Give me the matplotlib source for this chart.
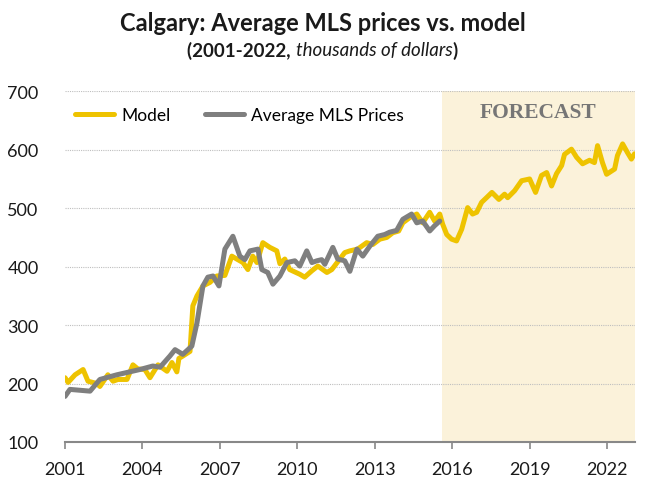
import matplotlib
matplotlib.use("Agg")
import matplotlib.pyplot as plt

plt.rcParams['font.family'] = ['Lato', 'DejaVu Sans']

# Average MLS prices (thousands of dollars), fractional years
mls_years = [2001.00, 2001.19, 2001.97, 2002.35, 2003.01, 2003.90, 2004.40, 2004.68,
             2005.06, 2005.26, 2005.56, 2005.91, 2006.11, 2006.34, 2006.53, 2006.73,
             2006.96, 2007.19, 2007.50, 2007.77, 2007.96, 2008.16, 2008.47, 2008.62,
             2008.85, 2009.05, 2009.32, 2009.59, 2009.90, 2010.09, 2010.36, 2010.56,
             2010.75, 2010.94, 2011.06, 2011.37, 2011.56, 2011.83, 2012.03, 2012.30,
             2012.53, 2012.80, 2013.11, 2013.38, 2013.57, 2013.84, 2014.08, 2014.42,
             2014.62, 2014.85, 2015.12, 2015.31, 2015.51]
mls_prices = [178, 190, 187, 207, 215, 224, 230, 228,
              247, 258, 250, 264, 304, 367, 382, 384,
              367, 430, 452, 418, 412, 427, 430, 395,
              390, 370, 384, 407, 410, 401, 427, 407,
              410, 412, 404, 433, 413, 410, 392, 430,
              418, 435, 452, 455, 459, 462, 481, 490,
              475, 478, 461, 470, 478]

# Model prices (thousands of dollars), fractional years
model_years = [2001.00, 2001.12, 2001.39, 2001.70, 2001.89, 2002.24, 2002.35, 2002.66,
               2002.86, 2003.05, 2003.40, 2003.63, 2003.82, 2004.09, 2004.29, 2004.60,
               2004.95, 2005.14, 2005.33, 2005.41, 2005.56, 2005.84, 2005.95, 2006.11,
               2006.34, 2006.61, 2006.88, 2007.19, 2007.46, 2007.65, 2007.89, 2008.08,
               2008.27, 2008.43, 2008.66, 2008.93, 2009.20, 2009.32, 2009.51, 2009.70,
               2010.09, 2010.28, 2010.56, 2010.79, 2011.14, 2011.33, 2011.64, 2011.83,
               2012.03, 2012.33, 2012.68, 2012.92, 2013.19, 2013.46, 2013.69, 2013.92,
               2014.08, 2014.35, 2014.62, 2014.85, 2015.12, 2015.31, 2015.51, 2015.62,
               2015.78, 2015.97, 2016.16, 2016.36, 2016.59, 2016.78, 2016.94, 2017.13,
               2017.32, 2017.53, 2017.80, 2018.02, 2018.14, 2018.41, 2018.68, 2018.99,
               2019.22, 2019.45, 2019.65, 2019.84, 2020.03, 2020.23, 2020.34, 2020.61,
               2020.81, 2021.04, 2021.31, 2021.50, 2021.62, 2021.81, 2021.97, 2022.28,
               2022.39, 2022.59, 2022.78, 2022.93, 2023.05]
model_prices = [210, 202, 215, 224, 204, 200, 195, 215,
                204, 207, 207, 232, 225, 224, 210, 232,
                221, 236, 220, 243, 247, 255, 333, 350,
                367, 373, 384, 385, 418, 413, 407, 395,
                418, 407, 441, 433, 427, 405, 413, 395,
                387, 382, 393, 401, 390, 395, 413, 424,
                427, 430, 441, 438, 447, 450, 458, 461,
                475, 484, 490, 475, 493, 478, 490, 473,
                455, 447, 444, 464, 501, 490, 493, 510,
                518, 527, 515, 524, 518, 530, 547, 550,
                527, 556, 561, 538, 559, 573, 592, 601,
                587, 576, 582, 578, 607, 578, 558, 567,
                590, 610, 595, 584, 593]

forecast_start = 2015.6
x_end = 2023.07
xtick_years = [2001, 2004, 2007, 2010, 2013, 2016, 2019, 2022]
yticks = [100, 200, 300, 400, 500, 600, 700]

yellow = '#EEC300'
grey = '#7F7F7F'

fig = plt.figure(figsize=(6.45, 4.85), dpi=100)
ax = fig.add_axes([0.1008, 0.0866, 0.8837, 0.7231])

ax.axvspan(forecast_start, x_end, color='#FBF2DA', zorder=0, lw=0)

for y in yticks[1:]:
    ax.axhline(y, color='#BFBFBF', lw=0.8, ls=(0, (1, 1)), zorder=1)

ax.plot(model_years, model_prices, color=yellow, lw=3.6, label='Model',
        solid_joinstyle='round', solid_capstyle='round', zorder=3)
ax.plot(mls_years, mls_prices, color=grey, lw=3.6, label='Average MLS Prices',
        solid_joinstyle='round', solid_capstyle='round', zorder=4)

ax.set_xlim(2001, x_end)
ax.set_ylim(100, 700)
ax.set_xticks(xtick_years)
ax.set_xticklabels([str(y) for y in xtick_years])
ax.set_yticks(yticks)

for s in ['top', 'right', 'left']:
    ax.spines[s].set_visible(False)
ax.spines['bottom'].set_color('#888888')
ax.spines['bottom'].set_linewidth(1.5)
ax.tick_params(axis='x', direction='out', length=5, width=1.2, color='#888888',
               labelsize=13, pad=9, labelcolor='#1a1a1a')
ax.tick_params(axis='y', length=0, labelsize=13, pad=19, labelcolor='#1a1a1a')

ax.text(2019.3, 665, 'FORECAST', family=['Liberation Serif'], fontsize=15.5,
        fontweight='bold', color='#767676', ha='center', va='center')

ax.legend(loc='upper left', bbox_to_anchor=(0.0, 0.985), ncol=2, frameon=False,
          fontsize=12.5, handlelength=2.2, handletextpad=0.45, columnspacing=2.0,
          borderaxespad=0.2)

fig.text(0.5, 0.952, 'Calgary: Average MLS prices vs. model', ha='center',
         va='center', fontsize=17, fontweight='bold', color='#1a1a1a')

# subtitle with mixed bold / italic parts
parts = [('(2001-2022, ', 'normal'), ('thousands of dollars', 'italic'), (')', 'normal')]
fig.canvas.draw()
renderer = fig.canvas.get_renderer()
texts = []
widths = []
for s, style in parts:
    t = fig.text(0, 0.895, s, fontsize=13.5, fontweight='bold' if style == 'normal' else 'normal',
                 style=style, va='center', ha='left', color='#1a1a1a')
    texts.append(t)
    widths.append(t.get_window_extent(renderer).width / fig.bbox.width)
x0 = 0.5 - sum(widths) / 2
for t, w in zip(texts, widths):
    t.set_x(x0)
    x0 += w

fig.savefig('out.png', dpi=100)
